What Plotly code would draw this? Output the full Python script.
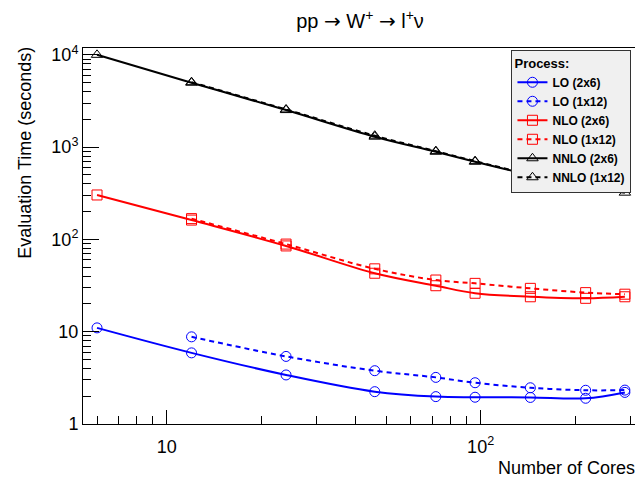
import plotly.graph_objects as go

cores_2x6 = [6, 12, 24, 46, 72, 96, 144, 216, 288]
cores_1x12 = [12, 24, 46, 72, 96, 144, 216, 288]

lo_2x6 = [11.0, 5.9, 3.4, 2.24, 1.98, 1.95, 1.94, 1.9, 2.2]
lo_1x12 = [8.8, 5.4, 3.78, 3.2, 2.8, 2.47, 2.32, 2.33]
nlo_2x6 = [303, 162, 85, 43, 31.5, 26.1, 23.9, 23.0, 23.9]
nlo_1x12 = [168, 89, 48, 36.3, 33.4, 29.5, 26.5, 25.5]
nnlo_2x6 = [10000, 4990, 2520, 1297, 891, 694, 499, 372, 321]
nnlo_1x12 = [5050, 2560, 1330, 905, 705, 505, 380, 355]

x_major = [10, 100]
x_major_text = ["10", "10<sup>2</sup>"]
x_minor = [6, 7, 8, 9, 20, 30, 40, 50, 60, 70, 80, 90, 200, 300]
y_major = [1, 10, 100, 1000, 10000]
y_major_text = ["1", "10", "10<sup>2</sup>", "10<sup>3</sup>", "10<sup>4</sup>"]
y_minor = [m * d for d in [1, 10, 100, 1000] for m in range(2, 10)]

series = [
    ("LO (2x6)", cores_2x6, lo_2x6, "#0000ff", "circle-open", "solid"),
    ("LO (1x12)", cores_1x12, lo_1x12, "#0000ff", "circle-open", "dash"),
    ("NLO (2x6)", cores_2x6, nlo_2x6, "#ff0000", "square-open", "solid"),
    ("NLO (1x12)", cores_1x12, nlo_1x12, "#ff0000", "square-open", "dash"),
    ("NNLO (2x6)", cores_2x6, nnlo_2x6, "#000000", "triangle-up-open", "solid"),
    ("NNLO (1x12)", cores_1x12, nnlo_1x12, "#000000", "triangle-up-open", "dash"),
]

fig = go.Figure()
for name, xs, ys, col, sym, dash in series:
    fig.add_trace(go.Scatter(
        x=xs, y=ys, name=name, mode="lines+markers",
        line=dict(color=col, width=2, dash="5px,4px" if dash == "dash" else "solid",
                  shape="spline", smoothing=1.0),
        marker=dict(symbol=sym, size=10, color=col, line=dict(color=col, width=1)),
    ))

font_family = "Liberation Sans, Arial, sans-serif"
arrow = '<span style="font-family:DejaVu Sans">\u2192</span>'

# page body has an 8px margin; size the figure so the plot frame lands at
# x 83..637, y 48..424 in the 643x482 window
W, H = 635, 474
fig.update_layout(
    width=W, height=H,
    margin=dict(l=75, r=6, t=40, b=58),
    paper_bgcolor="white", plot_bgcolor="white",
    font=dict(family=font_family, color="black", size=18),
    title=dict(text="pp " + arrow + " W<sup>+</sup> " + arrow + " l<sup>+</sup>\u03bd",
               x=(75 + 629) / 2 / W, xanchor="center", y=1 - 13 / H, yanchor="middle",
               font=dict(size=20, family=font_family)),
    showlegend=True,
    legend=dict(
        x=0.99, xanchor="right", y=0.995, yanchor="top",
        bgcolor="#f0f0f0", bordercolor="#333333", borderwidth=1,
        font=dict(size=12, family=font_family, weight="bold"),
        title=dict(text="Process:", font=dict(size=13, family=font_family, weight="bold")),
        itemwidth=30, tracegroupgap=0,
    ),
    xaxis=dict(
        type="log", range=[0.7335, 2.498],
        tickvals=x_major, ticktext=x_major_text,
        ticks="inside", ticklen=14, tickwidth=1, tickcolor="black",
        minor=dict(tickvals=x_minor, ticks="inside", ticklen=8, tickwidth=1,
                   tickcolor="black", showgrid=False),
        showgrid=False, zeroline=False,
        showline=True, linecolor="black", linewidth=1, mirror=True,
        tickfont=dict(size=18), ticklabelstandoff=6,
    ),
    yaxis=dict(
        type="log", range=[0, 4.074],
        tickvals=y_major, ticktext=y_major_text,
        ticks="inside", ticklen=16, tickwidth=1, tickcolor="black",
        minor=dict(tickvals=y_minor, ticks="inside", ticklen=8, tickwidth=1,
                   tickcolor="black", showgrid=False),
        showgrid=False, zeroline=False,
        showline=True, linecolor="black", linewidth=1, mirror=True,
        tickfont=dict(size=18),
    ),
    annotations=[
        dict(text="Number of Cores", xref="paper", yref="paper", x=1.0, y=-0.117,
             xanchor="right", yanchor="middle", showarrow=False,
             font=dict(size=18, family=font_family)),
        dict(text="Evaluation Time (seconds)", xref="paper", yref="paper",
             x=-0.105, y=1.008, xanchor="center", yanchor="top", textangle=-90,
             showarrow=False, font=dict(size=18, family=font_family)),
    ],
)

fig.write_html("out.html")
